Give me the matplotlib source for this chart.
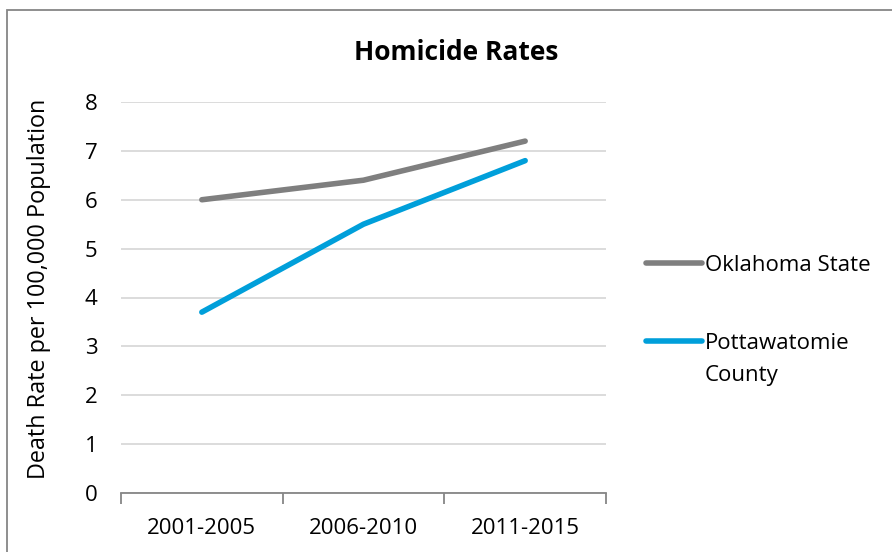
import matplotlib.pyplot as plt
from matplotlib.patches import Rectangle

periods = ['2001-2005', '2006-2010', '2011-2015']
oklahoma = [6.0, 6.4, 7.2]
pottawatomie = [3.7, 5.5, 6.8]
series_names = ['Oklahoma State', 'Pottawatomie']
name_second_line = 'County'

plt.rcParams['font.family'] = ['Open Sans', 'DejaVu Sans']

fig = plt.figure(figsize=(8.92, 5.52), dpi=100)
ax = fig.add_axes([121/892, 1 - 493/552, (606-121)/892, (493-102)/552])

x = range(len(periods))
ax.plot(x, oklahoma, color='#7f7f7f', lw=4, solid_capstyle='round', label=series_names[0])
ax.plot(x, pottawatomie, color='#009fda', lw=4, solid_capstyle='round', label=series_names[1])

ax.set_xlim(-0.5, 2.5)
ax.set_ylim(0, 8)
ax.set_yticks(range(0, 9))
ax.yaxis.grid(True, color='#d9d9d9', lw=1.3)
ax.set_axisbelow(True)
ax.tick_params(axis='y', length=0, labelsize=16, pad=17)
ax.set_xticks([-0.5, 0.5, 1.5, 2.5])
ax.set_xticklabels([])
ax.set_xticks(list(x), minor=True)
ax.set_xticklabels(periods, minor=True)
ax.tick_params(axis='x', which='major', length=8, color='#868686', width=1.3)
ax.tick_params(axis='x', which='minor', length=0, labelsize=16, pad=18)
for s in ['left', 'right', 'top']:
    ax.spines[s].set_visible(False)
ax.spines['bottom'].set_color('#868686')
ax.spines['bottom'].set_linewidth(1.3)

ax.set_ylabel('Death Rate per 100,000 Population', fontsize=16.8, labelpad=24, y=0.522)
fig.text(456/892, 1 - 53/552, 'Homicide Rates', ha='center', va='center',
         fontsize=19, fontweight='bold')

leg = fig.legend(loc='upper left', bbox_to_anchor=(626/892, 1 - 235/552), frameon=False,
                 fontsize=16, handlelength=2.5, handletextpad=0.15, labelspacing=2.55)

# second line of the county name, placed under its legend label
fig.canvas.draw()
bb = leg.get_texts()[1].get_window_extent().transformed(fig.transFigure.inverted())
fig.text(bb.x0, bb.y0 - 32/552, name_second_line, fontsize=16, ha='left', va='bottom')

# chart border: only left and top edges are inside the image
fig.patches.append(Rectangle((7/892, -0.1), 1.0, 1.1 - 9.5/552, transform=fig.transFigure,
                             fill=False, edgecolor='#868686', lw=1.3))

fig.savefig('out.png', dpi=100)
